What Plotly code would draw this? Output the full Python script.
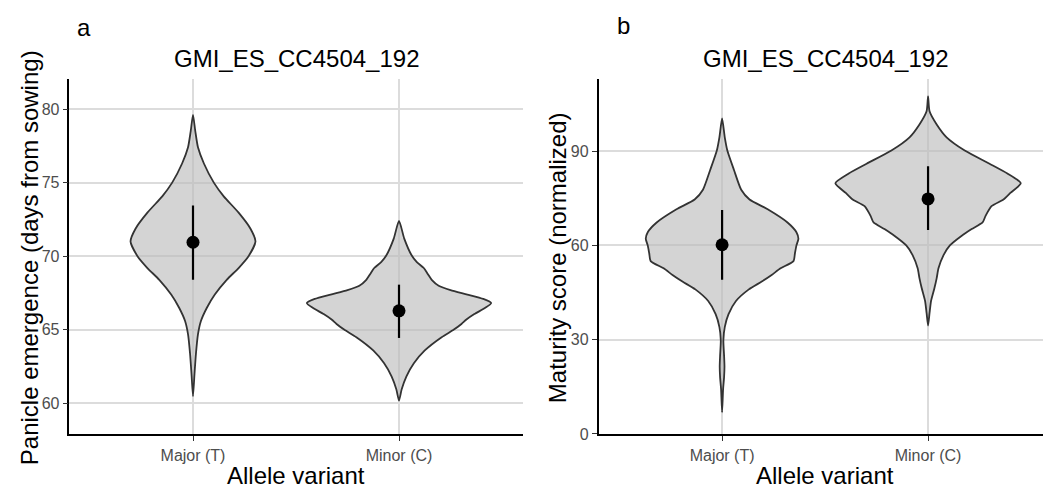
import plotly.graph_objects as go

# ---------------- data ----------------
categories = ["Major (T)", "Minor (C)"]
cat_pos = [1, 2]

# Panel a: Panicle emergence (days from sowing) -- violin outline profiles
a_major_y = [79.6, 78.5, 77.4, 76.3, 75.0, 74.07, 72.96, 71.87, 71.0, 70.0, 69.2, 68.4,
             67.4, 66.5, 65.6, 64.7, 63.4, 62.0, 60.5]
a_major_w = [0, 2.3, 5, 11, 21, 31, 46, 58, 63, 56, 46, 34, 22, 14, 8, 5, 3, 1.5, 0]
a_minor_y = [72.4, 71.2, 70.07, 69.6, 69.2, 68.8, 68.4, 68.0, 67.7, 67.4, 67.1, 66.82,
             66.5, 66.07, 65.7, 65.4, 65.0, 64.5, 63.6, 62.73, 61.84, 60.96, 60.2]
a_minor_w = [0, 5.3, 12.7, 18, 25, 29, 33, 40, 52, 69, 85, 93, 87, 76, 68, 63, 55, 43,
             26, 15, 7.5, 2.7, 0]
a_mean = [70.95, 66.29]
a_low = [68.4, 64.45]
a_high = [73.45, 68.07]

# Panel b: Maturity score (normalized)
b_major_y = [100.4, 94.4, 90.2, 84.0, 77.7, 74.6, 71.5, 67.3, 64.2, 62.1, 60.0, 57.5,
             55.0, 52.7, 50.6, 48.5, 46.0, 42.3, 38.1, 34.0, 29.8, 25.0, 21.5, 18.0, 14.2, 6.9]
b_major_w = [0, 2.7, 5.3, 12, 19.3, 27.7, 46, 66, 75, 77, 75, 73.5, 72, 59, 50, 40, 27,
             14, 6.5, 2.7, 1.3, 2, 2.4, 2, 1, 0]
b_minor_y = [107.4, 102.7, 98.5, 94.4, 90.2, 86.0, 82.9, 79.8, 76.7, 74.6, 72.5, 69.4,
             67.3, 65.2, 63.1, 60.0, 56.9, 52.7, 49.6, 46.5, 42.3, 38.5, 34.5]
b_minor_w = [0, 1.5, 8.7, 18.7, 37, 62, 80, 93.5, 83, 76, 64, 58, 55, 44, 34, 22, 15.6,
             10.5, 8.7, 6.5, 3, 1.5, 0]
b_mean = [60.2, 74.8]
b_low = [49.1, 64.9]
b_high = [71.25, 85.2]

a_ticks = [60, 65, 70, 75, 80]
b_ticks = [0, 30, 60, 90]

# ---------------- styling ----------------
W, H = 1043, 494
FONT = "Liberation Sans, Arial, Helvetica, sans-serif"
FILL = "rgba(185,185,185,0.62)"
OUTLINE = "#333333"
GRID = "#dcdcdc"

MAXW = max(max(a_major_w), max(a_minor_w), max(b_major_w), max(b_minor_w))
HALF = 0.45


def violin(center, ys, ws, xa, ya):
    scale = HALF / MAXW
    right_x = [center + w * scale for w in ws]
    left_x = [center - w * scale for w in ws]
    xs = right_x + left_x[-2:0:-1] + [right_x[0]]
    yy = list(ys) + list(ys)[-2:0:-1] + [ys[0]]
    return go.Scatter(x=xs, y=yy, mode="lines", fill="toself", fillcolor=FILL,
                      line=dict(color=OUTLINE, width=1.8, shape="spline", smoothing=0.6),
                      xaxis=xa, yaxis=ya, hoverinfo="skip", showlegend=False)


def meanbar(means, lows, highs, xa, ya):
    return go.Scatter(x=cat_pos, y=means, mode="markers",
                      marker=dict(color="black", size=13),
                      error_y=dict(type="data", symmetric=False,
                                   array=[h - m for h, m in zip(highs, means)],
                                   arrayminus=[m - l for m, l in zip(means, lows)],
                                   color="black", thickness=2.2, width=0),
                      xaxis=xa, yaxis=ya, showlegend=False)


fig = go.Figure()
fig.add_trace(violin(cat_pos[0], a_major_y, a_major_w, "x", "y"))
fig.add_trace(violin(cat_pos[1], a_minor_y, a_minor_w, "x", "y"))
fig.add_trace(meanbar(a_mean, a_low, a_high, "x", "y"))
fig.add_trace(violin(cat_pos[0], b_major_y, b_major_w, "x2", "y2"))
fig.add_trace(violin(cat_pos[1], b_minor_y, b_minor_w, "x2", "y2"))
fig.add_trace(meanbar(b_mean, b_low, b_high, "x2", "y2"))

ydom = [1 - 442 / H, 1 - 80 / H]

common_x = dict(tickmode="array", tickvals=cat_pos, ticktext=categories,
                showgrid=True, gridcolor=GRID, gridwidth=1.5, zeroline=False,
                showline=True, linecolor="black", linewidth=1.5,
                ticks="outside", ticklen=5, tickcolor="#333333", tickwidth=1.2,
                ticklabelstandoff=1,
                tickfont=dict(family=FONT, size=16, color="#4d4d4d"))
common_y = dict(tickmode="array", showgrid=True, gridcolor=GRID, gridwidth=1.5,
                zeroline=False, showline=True, linecolor="black", linewidth=1.5,
                ticks="outside", ticklen=5, tickcolor="#333333", tickwidth=1.2,
                tickfont=dict(family=FONT, size=16, color="#4d4d4d"))

fig.update_layout(
    width=W, height=H, margin=dict(l=0, r=0, t=0, b=0),
    paper_bgcolor="white", plot_bgcolor="white",
    xaxis=dict(domain=[69.4 / W, 522.6 / W], range=[0.4, 2.6], anchor="y", **common_x),
    yaxis=dict(domain=ydom, range=[57.93, 82.07], tickvals=a_ticks, anchor="x", **common_y),
    xaxis2=dict(domain=[598.5 / W, 1.0], range=[0.4, 2.558], anchor="y2", **common_x),
    yaxis2=dict(domain=ydom, range=[0, 113.1], tickvals=b_ticks, anchor="x2", **common_y),
)

def ann(text, x, y, size, color="black", angle=0, xanchor="center", yanchor="middle"):
    fig.add_annotation(text=text, x=x / W, y=1 - y / H, xref="paper", yref="paper",
                       showarrow=False, textangle=angle, xanchor=xanchor, yanchor=yanchor,
                       font=dict(family=FONT, size=size, color=color))

# panel letters
ann("a", 84, 28, 24)
ann("b", 623, 26, 24)
# titles
ann("GMI_ES_CC4504_192", 296, 60, 24)
ann("GMI_ES_CC4504_192", 825, 60, 24)
# x axis titles
ann("Allele variant", 296, 484, 24)
ann("Allele variant", 825, 484, 24)
# y axis titles
ann("Panicle emergence (days from sowing)", 29, 263, 24, angle=-90)
ann("Maturity score (normalized)", 557, 263, 24, angle=-90)

fig.write_html("out.html")
